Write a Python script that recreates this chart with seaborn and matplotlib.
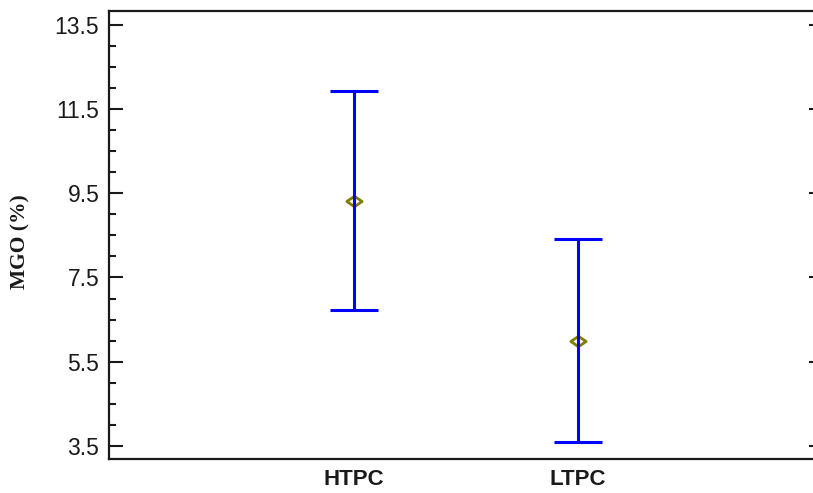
import numpy as np
import pandas as pd
import matplotlib
matplotlib.use("Agg")
import matplotlib.pyplot as plt
from matplotlib.path import Path
from matplotlib.ticker import FixedLocator
import seaborn as sns

# Group means with their interval limits for MgO content
groups = ["HTPC", "LTPC"]
means = [9.32, 5.99]
lower = [6.73, 3.59]
upper = [11.92, 8.41]

y_ticks = [3.5, 5.5, 7.5, 9.5, 11.5, 13.5]
y_label = "MGO (%)"

sns.set_theme(style="white")
plt.rcParams["font.family"] = ["Liberation Sans", "DejaVu Sans"]

fig = plt.figure(figsize=(8.13, 4.93), dpi=100)
W, H = 813, 493
ax = fig.add_axes([109 / W, 1 - 459.3 / H, (815 - 109) / W, (459.3 - 11) / H])

df = pd.DataFrame({"group": groups, "mgo": means})

# flattened diamond used for the group means
diamond = Path([(-1.0, 0.0), (0.0, 0.68), (1.0, 0.0), (0.0, -0.68), (-1.0, 0.0)],
               [Path.MOVETO, Path.LINETO, Path.LINETO, Path.LINETO, Path.CLOSEPOLY])

sns.pointplot(data=df, x="group", y="mgo", order=groups, linestyle="none",
              errorbar=None, marker=diamond, markersize=11,
              markerfacecolor="none", markeredgecolor="#7f7f00",
              markeredgewidth=2.0, color="#7f7f00", ax=ax, zorder=2)

m = np.array(means)
ax.errorbar(x=np.arange(len(groups)), y=m,
            yerr=[m - np.array(lower), np.array(upper) - m],
            fmt="none", ecolor="#0000ff", elinewidth=2.2,
            capsize=17, capthick=2.2, zorder=3)

ax.set_xlim(-1.095, 2.061)
ax.set_ylim(3.184, 13.825)
ax.set_xlabel("")
ax.set_ylabel("")

ax.yaxis.set_major_locator(FixedLocator(y_ticks))
ax.yaxis.set_minor_locator(FixedLocator(
    [v for v in np.arange(3.5, 13.51, 0.5) if round(v, 1) not in y_ticks]))
ax.set_yticklabels([f"{v:.1f}" for v in y_ticks])

for side in ["left", "top", "bottom"]:
    ax.spines[side].set_color("#1a1a1a")
    ax.spines[side].set_linewidth(1.6)
ax.spines["right"].set_visible(False)

ax.tick_params(axis="y", which="major", direction="in", length=10, width=1.5,
               color="#1a1a1a", labelsize=16.5, labelcolor="#1a1a1a", pad=7,
               left=True, right=True)
ax.tick_params(axis="y", which="minor", direction="in", length=5, width=1.5,
               color="#1a1a1a", left=True, right=False)
ax.tick_params(axis="x", which="both", length=0, pad=7, labelsize=16,
               labelcolor="#1a1a1a")
for lbl in ax.get_xticklabels():
    lbl.set_fontweight("bold")

# short stubs on the right-hand side
for t in ax.yaxis.get_major_ticks():
    t.tick2line.set_markersize(4.5)

fig.text(20 / W, 1 - 242 / H, y_label, rotation=90, ha="center", va="center",
         fontsize=15.5, fontweight="bold", color="#1a1a1a",
         family=["Liberation Serif", "DejaVu Serif"])

fig.savefig("out.png", dpi=100, facecolor="white")
